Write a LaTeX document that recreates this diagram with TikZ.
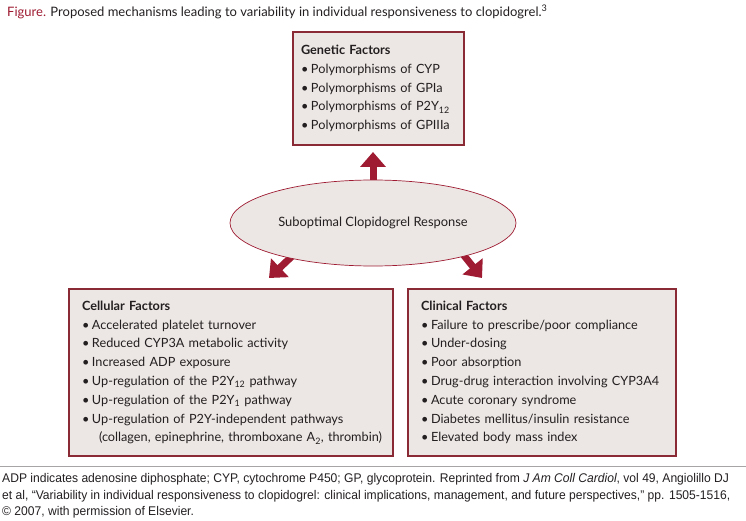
\documentclass[tikz,border=0pt]{standalone}
\usepackage{fontspec}
\setmainfont{Lato}
\newfontfamily\footfont[FakeStretch=0.96]{Liberation Sans}
\usetikzlibrary{shapes.geometric,arrows.meta,backgrounds}
\definecolor{darkred}{HTML}{9E1B32}
\definecolor{boxred}{HTML}{8A2A35}
\definecolor{boxfill}{HTML}{ECE7E4}
\definecolor{txt}{HTML}{231F20}
\definecolor{rulegray}{HTML}{A7A5A6}
\tikzset{
  factorbox/.style={draw=boxred, line width=1.1pt, fill=boxfill, rectangle,
    align=left, text=txt, inner ysep=0pt,
    font=\fontsize{12.7}{18.8}\selectfont},
  respell/.style={draw=darkred, line width=0.7pt, fill=boxfill, ellipse,
    inner sep=0pt, text=txt, font=\fontsize{12.9}{14}\selectfont},
  bigarrow/.style={draw=darkred, line width=7pt,
    -{Triangle[width=25pt,length=15pt]}},
  footline/.style={anchor=base west, text=txt, inner sep=0pt,
    font=\footfont\fontsize{12.6}{15}\selectfont},
}
\newcommand{\bul}{\makebox[10pt][l]{\textbullet}}
\begin{document}
\begin{tikzpicture}[x=1pt,y=-1pt]
\useasboundingbox (0,0) rectangle (746,521);
\node[anchor=west, text=txt, inner sep=0pt, font=\fontsize{13}{15}\selectfont] (title) at (7,12)
  {\textcolor{darkred}{Figure.} Proposed mechanisms leading to variability in individual responsiveness to clopidogrel.\textsuperscript{3}};

\node[factorbox, minimum width=171pt, minimum height=113pt, text width=155pt, inner xsep=8pt] (gen) at (378.5,88.5)
  {\textbf{Genetic Factors}\\
   \bul Polymorphisms of CYP\\
   \bul Polymorphisms of GPIa\\
   \bul Polymorphisms of P2Y\textsubscript{12}\\
   \bul Polymorphisms of GPIIIa};

\node[respell, minimum width=286pt, minimum height=86pt] (ell) at (373,223) {Suboptimal Clopidogrel Response};

\node[factorbox, minimum width=324pt, minimum height=167pt, text width=298pt, inner xsep=13pt] (cell) at (231,372.5)
  {\textbf{Cellular Factors}\\
   \bul Accelerated platelet turnover\\
   \bul Reduced CYP3A metabolic activity\\
   \bul Increased ADP exposure\\
   \bul Up-regulation of the P2Y\textsubscript{12} pathway\\
   \bul Up-regulation of the P2Y\textsubscript{1} pathway\\
   \bul Up-regulation of P2Y-independent pathways\\
   \hspace*{17pt}\mbox{(collagen, epinephrine, thromboxane A\textsubscript{2}, thrombin)}};

\node[factorbox, minimum width=268pt, minimum height=167pt, text width=242pt, inner xsep=13pt] (clin) at (542,372.5)
  {\textbf{Clinical Factors}\\
   \bul Failure to prescribe/poor compliance\\
   \bul Under-dosing\\
   \bul Poor absorption\\
   \bul Drug-drug interaction involving CYP3A4\\
   \bul Acute coronary syndrome\\
   \bul Diabetes mellitus/insulin resistance\\
   \bul Elevated body mass index};

\coordinate (tipU) at (373,152);
\coordinate (tipL) at (269,278);
\coordinate (tipR) at (482,278);
\begin{scope}[on background layer]
  \draw[bigarrow, shorten <=-6pt] (ell.north) -- (tipU);
  \draw[bigarrow, shorten <=-6pt] (ell.203) -- (tipL);
  \draw[bigarrow, shorten <=-6pt] (ell.340) -- (tipR);
\end{scope}

\draw[rulegray, line width=0.8pt] (0,466) -- (746,466);
\node[footline] (foot1) at (2,482)
  {ADP indicates adenosine diphosphate; CYP, cytochrome P450; GP, glycoprotein. Reprinted from \textit{J Am Coll Cardiol}, vol 49, Angiolillo DJ};
\node[footline] (foot2) at (2,499)
  {et al, “Variability in individual responsiveness to clopidogrel: clinical implications, management, and future perspectives,” pp. 1505-1516,};
\node[footline] (foot3) at (2,515.5)
  {\textcopyright{} 2007, with permission of Elsevier.};
\end{tikzpicture}
\end{document}
